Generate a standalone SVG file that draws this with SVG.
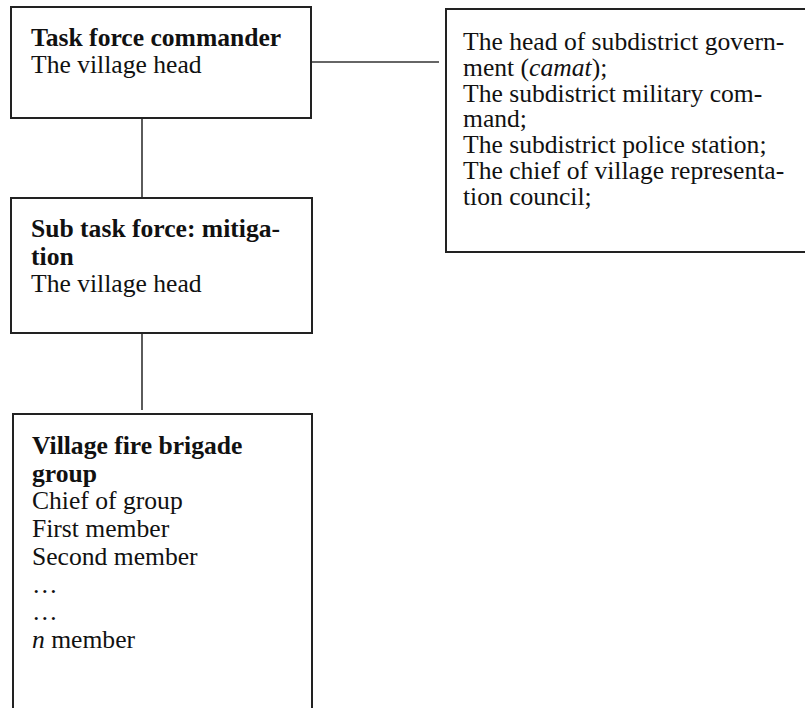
<svg xmlns="http://www.w3.org/2000/svg" width="805" height="708" viewBox="0 0 805 708">
<style>
.box{fill:#fff;stroke:#222;stroke-width:2}
.con{fill:none;stroke:#333;stroke-width:1.6}
text{font-family:"Liberation Serif","Times New Roman",serif;font-size:25.6px;fill:#111}
.b{font-weight:bold}
</style>
<rect width="805" height="708" fill="#fff"/>
<g id="connectors">
<line class="con" x1="311" y1="62" x2="439" y2="62"/>
<line class="con" x1="142" y1="118" x2="142" y2="198"/>
<line class="con" x1="142" y1="333" x2="142" y2="410"/>
</g>
<g id="task-force-commander">
<rect class="box" x="11" y="7" width="300" height="111"/>
<text x="31" y="46"><tspan class="b">Task force commander</tspan><tspan x="31" y="73">The village head</tspan></text>
</g>
<g id="coordination">
<rect class="box" x="446" y="9" width="370" height="243"/>
<text x="463" y="50">The head of subdistrict govern-<tspan x="463" y="75.8">ment (<tspan font-style="italic">camat</tspan>);</tspan><tspan x="463" y="101.6">The subdistrict military com-</tspan><tspan x="463" y="127.4">mand;</tspan><tspan x="463" y="153.2">The subdistrict police station;</tspan><tspan x="463" y="179">The chief of village representa-</tspan><tspan x="463" y="204.8">tion council;</tspan></text>
</g>
<g id="sub-task-force">
<rect class="box" x="11" y="198" width="301" height="135"/>
<text x="31" y="237"><tspan class="b">Sub task force: mitiga-</tspan><tspan class="b" x="31" y="264.5">tion</tspan><tspan x="31" y="292">The village head</tspan></text>
</g>
<g id="fire-brigade">
<rect class="box" x="13" y="414" width="299" height="310"/>
<text x="32" y="454"><tspan class="b">Village fire brigade</tspan><tspan class="b" x="32" y="481.7">group</tspan><tspan x="32" y="509.4">Chief of group</tspan><tspan x="32" y="537.1">First member</tspan><tspan x="32" y="564.8">Second member</tspan><tspan x="32" y="592.5">…</tspan><tspan x="32" y="620.2">…</tspan><tspan x="32" y="647.9"><tspan font-style="italic">n</tspan> member</tspan></text>
</g>
</svg>
